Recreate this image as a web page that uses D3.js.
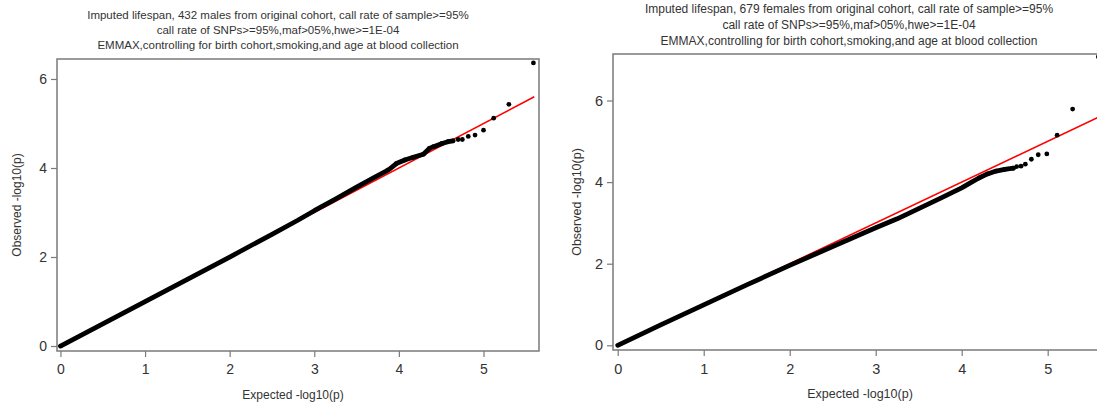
<!DOCTYPE html>
<html>
<head>
<meta charset="utf-8">
<script src="https://cdn.jsdelivr.net/npm/d3@7"></script>
<style>
  html, body { margin: 0; padding: 0; background: #fff; }
  svg { display: block; font-family: "Liberation Sans", Arial, Helvetica, sans-serif; }
</style>
</head>
<body>
<svg id="chart" width="1097" height="406"></svg>
<script>
// ---- data: QQ plots of -log10(p), expected vs observed ----
const maleTitle = [
  "Imputed lifespan, 432 males from original cohort, call rate of sample>=95%",
  "call rate of SNPs>=95%,maf>05%,hwe>=1E-04",
  "EMMAX,controlling for birth cohort,smoking,and age at blood collection"
];
const femaleTitle = [
  "Imputed lifespan, 679 females from original cohort, call rate of sample>=95%",
  "call rate of SNPs>=95%,maf>05%,hwe>=1E-04",
  "EMMAX,controlling for birth cohort,smoking,and age at blood collection"
];
const xLabel = "Expected -log10(p)";
const yLabel = "Observed -log10(p)";
const xTicks = [0, 1, 2, 3, 4, 5];
const yTicks = [0, 2, 4, 6];
const maxExpected = 5.6;

// dense body of the distribution (expected, observed)
const maleBodyExp = [0, 0.5, 1, 1.5, 2, 2.5, 2.8, 3, 3.25, 3.5, 3.7, 3.85, 3.9, 3.97, 4.07, 4.17, 4.29, 4.36, 4.41, 4.51, 4.58, 4.64];
const maleBodyObs = [0, 0.5, 1, 1.5, 2.0, 2.51, 2.82, 3.04, 3.30, 3.57, 3.78, 3.93, 3.99, 4.10, 4.18, 4.24, 4.31, 4.44, 4.48, 4.55, 4.59, 4.61];
// sparse upper tail (individual SNPs)
const maleTailExp = [3.97, 4.07, 4.17, 4.29, 4.36, 4.41, 4.51, 4.58, 4.64, 4.70, 4.75, 4.82, 4.90, 5.00, 5.12, 5.30, 5.59];
const maleTailObs = [4.10, 4.18, 4.24, 4.31, 4.44, 4.48, 4.55, 4.59, 4.61, 4.64, 4.64, 4.71, 4.74, 4.85, 5.12, 5.43, 6.36];

const femaleBodyExp = [0, 0.5, 1, 1.5, 2, 2.5, 3, 3.25, 3.5, 3.75, 4.0, 4.1, 4.2, 4.3, 4.4, 4.5, 4.6];
const femaleBodyObs = [0, 0.5, 0.99, 1.48, 1.96, 2.42, 2.88, 3.10, 3.35, 3.60, 3.86, 3.98, 4.10, 4.20, 4.27, 4.31, 4.34];
const femaleTailExp = [4.2, 4.3, 4.4, 4.5, 4.6, 4.64, 4.69, 4.74, 4.81, 4.89, 4.99, 5.11, 5.29, 5.59];
const femaleTailObs = [4.10, 4.20, 4.27, 4.31, 4.34, 4.38, 4.39, 4.44, 4.56, 4.67, 4.69, 5.15, 5.79, 7.07];

// ---- layout ----
const panels = [
  { title: maleTitle, titleX: 278, titleY: [19, 34, 49], titleSize: 11.5,
    box: { left: 57, right: 539, top: 59, bottom: 351 },
    xDomain: [-0.041, 5.656], yDomain: [-0.112, 6.449],
    tickSize: 14, labelSize: 12, yLabelX: 17, xLabelY: 399,
    bodyExp: maleBodyExp, bodyObs: maleBodyObs, tailExp: maleTailExp, tailObs: maleTailObs },
  { title: femaleTitle, titleX: 849, titleY: [13, 29, 45], titleSize: 12,
    box: { left: 613, right: 1101, top: 54, bottom: 350 },
    xDomain: [-0.055, 5.62], yDomain: [-0.115, 7.14],
    tickSize: 14.5, labelSize: 12.5, yLabelX: 577, xLabelY: 398,
    bodyExp: femaleBodyExp, bodyObs: femaleBodyObs, tailExp: femaleTailExp, tailObs: femaleTailObs }
];

const svg = d3.select("#chart");
const axisColor = "#7a7a7a";
const textColor = "#333";

panels.forEach((p, i) => {
  const b = p.box;
  const x = d3.scaleLinear().domain(p.xDomain).range([b.left, b.right]);
  const y = d3.scaleLinear().domain(p.yDomain).range([b.bottom, b.top]);
  const g = svg.append("g").attr("class", "panel-" + i);

  // title lines
  g.selectAll("text.title").data(p.title).join("text")
    .attr("class", "title")
    .attr("x", p.titleX)
    .attr("y", (d, k) => p.titleY[k])
    .attr("text-anchor", "middle")
    .attr("font-size", p.titleSize)
    .attr("fill", textColor)
    .text(d => d);

  // clip region for marks
  const clipId = "clip-" + i;
  g.append("clipPath").attr("id", clipId).append("rect")
    .attr("x", b.left).attr("y", b.top)
    .attr("width", b.right - b.left).attr("height", b.bottom - b.top);

  const marks = g.append("g").attr("clip-path", `url(#${clipId})`);

  // identity line (drawn beneath the points)
  marks.append("line")
    .attr("x1", x(0)).attr("y1", y(0))
    .attr("x2", x(maxExpected)).attr("y2", y(maxExpected))
    .attr("stroke", "#ff0000")
    .attr("stroke-width", 1.6);

  // dense body of points
  const body = p.bodyExp.map((e, k) => [e, p.bodyObs[k]]);
  marks.append("path")
    .datum(body)
    .attr("fill", "none")
    .attr("stroke", "#000")
    .attr("stroke-width", 4.8)
    .attr("stroke-linecap", "round")
    .attr("stroke-linejoin", "round")
    .attr("d", d3.line().x(d => x(d[0])).y(d => y(d[1])));

  // tail points
  const tail = p.tailExp.map((e, k) => [e, p.tailObs[k]]);
  marks.selectAll("circle").data(tail).join("circle")
    .attr("cx", d => x(d[0]))
    .attr("cy", d => y(d[1]))
    .attr("r", 2.4)
    .attr("fill", "#000");

  // axes
  const xAxis = d3.axisBottom(x).tickValues(xTicks).tickSize(6).tickPadding(4).tickFormat(d3.format("d"));
  const yAxis = d3.axisLeft(y).tickValues(yTicks).tickSize(6).tickPadding(4).tickFormat(d3.format("d"));

  const gx = g.append("g").attr("transform", `translate(0,${b.bottom})`).call(xAxis);
  const gy = g.append("g").attr("transform", `translate(${b.left},0)`).call(yAxis);
  [gx, gy].forEach(ax => {
    ax.select(".domain").remove();
    ax.selectAll(".tick line").attr("stroke", axisColor).attr("stroke-width", 1.2);
    ax.selectAll(".tick text").attr("fill", textColor).attr("font-size", p.tickSize)
      .attr("font-family", "Liberation Sans, Arial, sans-serif");
  });
  gx.selectAll(".tick text").attr("dy", "0.95em");

  // plot frame
  g.append("rect")
    .attr("x", b.left).attr("y", b.top)
    .attr("width", b.right - b.left).attr("height", b.bottom - b.top)
    .attr("fill", "none")
    .attr("stroke", axisColor)
    .attr("stroke-width", 1.5);

  // axis titles
  g.append("text")
    .attr("x", (b.left + Math.min(b.right, 1097)) / 2 + (i === 0 ? -5 : 5))
    .attr("y", p.xLabelY)
    .attr("text-anchor", "middle")
    .attr("font-size", p.labelSize)
    .attr("fill", textColor)
    .text(xLabel);

  g.append("text")
    .attr("transform", `translate(${p.yLabelX},${(b.top + b.bottom) / 2}) rotate(-90)`)
    .attr("dy", "0.35em")
    .attr("text-anchor", "middle")
    .attr("font-size", p.labelSize)
    .attr("fill", textColor)
    .text(yLabel);
});
</script>
</body>
</html>
